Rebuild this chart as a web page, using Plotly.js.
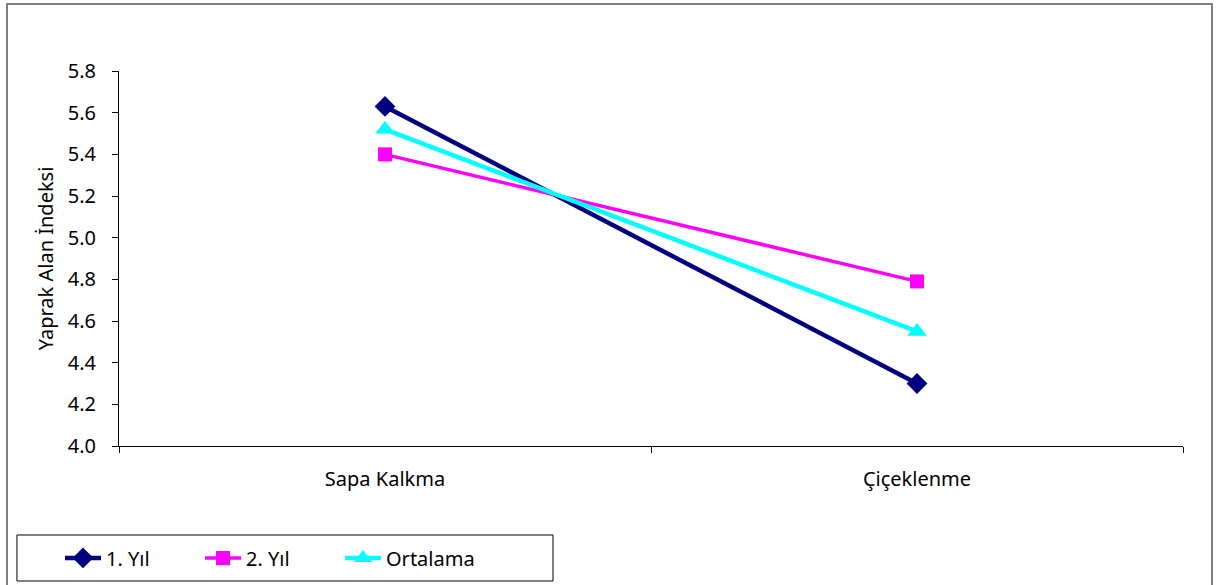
<!DOCTYPE html>
<html>
<head>
<meta charset="utf-8">
<script src="https://cdn.plot.ly/plotly-3.0.1.min.js"></script>
<style>
  html, body { margin: 0; padding: 0; background: #fff; }
  #wrap { position: relative; width: 1217px; height: 585px; }
  #chart { width: 1217px; height: 585px; }
  #frame { position: absolute; left: 6px; top: 3px; width: 1207px; height: 600px;
           border: 2px solid #808080; pointer-events: none; box-sizing: border-box; }
</style>
</head>
<body>
<div id="wrap">
  <div id="chart"></div>
  <div id="frame"></div>
</div>
<script>
// Growth stages on the category axis
const stages = ["Sapa Kalkma", "Çiçeklenme"];

// Leaf area index per year and their mean
const yil1 = [5.63, 4.30];
const yil2 = [5.40, 4.79];
const ortalama = [5.52, 4.55];

const fontFamily = "'Noto Sans', 'Open Sans', sans-serif";

const traces = [
  {
    x: stages, y: yil1, name: "1. Yıl", type: "scatter", mode: "lines+markers",
    line: { color: "#000080", width: 4.5 },
    marker: { symbol: "diamond", size: 16, color: "#000080" }
  },
  {
    x: stages, y: yil2, name: "2. Yıl", type: "scatter", mode: "lines+markers",
    line: { color: "#FF00FF", width: 3.5 },
    marker: { symbol: "square", size: 14, color: "#FF00FF" }
  },
  {
    x: stages, y: ortalama, name: "Ortalama", type: "scatter", mode: "lines+markers",
    line: { color: "#00FFFF", width: 4.5 },
    marker: { symbol: "triangle-up", size: 17, color: "#00FFFF" }
  }
];

const layout = {
  width: 1217, height: 585,
  margin: { l: 119, r: 34, t: 71, b: 139 },
  paper_bgcolor: "#fff", plot_bgcolor: "#fff",
  font: { family: fontFamily, size: 20, color: "#000" },
  showlegend: true,
  xaxis: {
    type: "category",
    range: [-0.5, 1.5],
    tickson: "boundaries",
    ticks: "outside", ticklen: 6, tickcolor: "#000", tickwidth: 1,
    showline: true, linecolor: "#000", linewidth: 1,
    showgrid: false, zeroline: false,
    ticklabelstandoff: 15,
    tickfont: { family: fontFamily, size: 20 }
  },
  yaxis: {
    range: [4.0, 5.8], dtick: 0.2, tick0: 4.0, tickformat: ".1f",
    ticks: "outside", ticklen: 6, tickcolor: "#000", tickwidth: 1,
    showline: true, linecolor: "#000", linewidth: 1,
    showgrid: false, zeroline: false,
    ticklabelstandoff: 12,
    tickfont: { family: fontFamily, size: 20 },
    title: { text: "Yaprak Alan İndeksi", font: { family: fontFamily, size: 20 }, standoff: 8 }
  },
  legend: {
    orientation: "h",
    xref: "container", yref: "container",
    x: 0.0493, xanchor: "left",
    y: 0.0462, yanchor: "middle",
    borderwidth: 0,
    bgcolor: "rgba(0,0,0,0)",
    entrywidth: 89, entrywidthmode: "pixels",
    font: { family: fontFamily, size: 20 },
    itemwidth: 36
  },
  // frame drawn around the legend entries
  shapes: [
    {
      type: "rect", xref: "paper", yref: "paper",
      x0: -0.0959, x1: 0.4079, y0: -0.2373, y1: -0.36,
      line: { color: "#000", width: 1 }, fillcolor: "rgba(0,0,0,0)", layer: "below"
    }
  ]
};

Plotly.newPlot("chart", traces, layout, { displayModeBar: false, staticPlot: true });
</script>
</body>
</html>
